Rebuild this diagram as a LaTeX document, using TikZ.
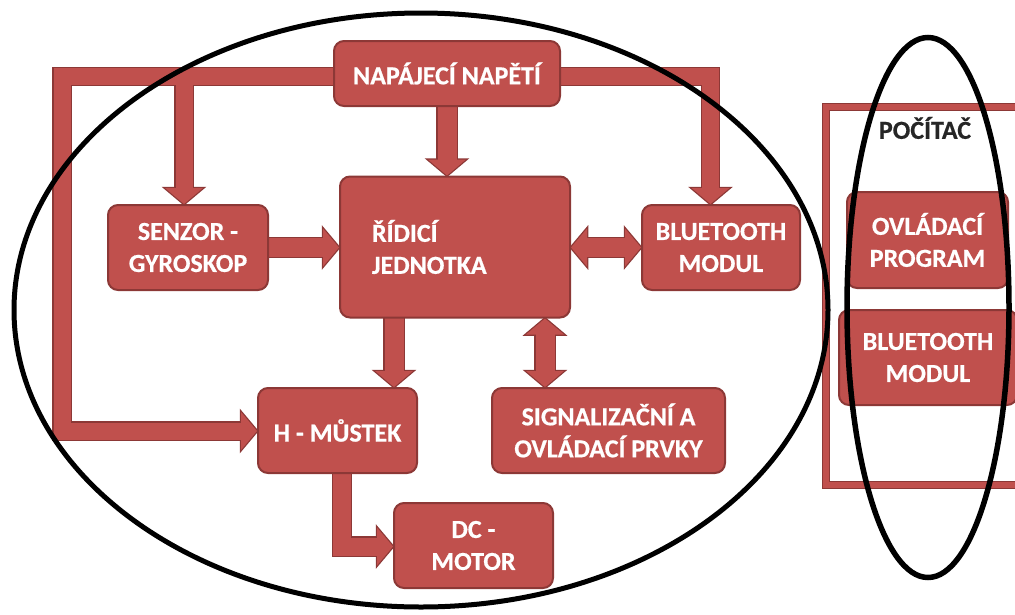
\documentclass[tikz,border=0pt]{standalone}
\usepackage{fontspec}
\setmainfont{Carlito}[BoldFeatures={FakeBold=0.6}]
\usetikzlibrary{calc,backgrounds}

\definecolor{boxred}{RGB}{192,80,77}
\definecolor{bdr}{RGB}{140,56,54}

\newcommand\boxfont{\fontsize{26}{32}\selectfont\bfseries}

% arrow heads: tip at #1, base 16 back, half width 19
\newcommand\headD[1]{($(#1)+(-19,-16)$) -- (#1) -- ($(#1)+(19,-16)$) -- cycle}
\newcommand\headU[1]{($(#1)+(-19,16)$) -- (#1) -- ($(#1)+(19,16)$) -- cycle}
\newcommand\headR[1]{($(#1)+(-16,-19)$) -- (#1) -- ($(#1)+(-16,19)$) -- cycle}
\newcommand\headL[1]{($(#1)+(16,-19)$) -- (#1) -- ($(#1)+(16,19)$) -- cycle}

% all block arrows and bus bars, drawn with the style given in #1
\newcommand\flowparts[1]{%
  % supply bus, left branch down to the H-bridge
  \path[#1] ($(jL)+(-8.5,-8.5)$) rectangle ($(nap.west |- jL)+(2,8.5)$);
  \path[#1] ($(jL)+(-8.5,-8.5)$) rectangle ($(jB)+(8.5,8.5)$);
  \path[#1] ($(jB)+(-8.5,-8.5)$) rectangle ($(jB -| hm.west)+(-15,8.5)$);
  \path[#1] \headR{jB -| hm.west};
  % supply to the gyro sensor
  \path[#1] ($(jS)+(-8.5,0)$) rectangle ($(jS |- sen.north)+(8.5,-15)$);
  \path[#1] \headD{jS |- sen.north};
  % supply bus, right branch down to the bluetooth module
  \path[#1] ($(nap.east |- jR)+(-2,-8.5)$) rectangle ($(jR)+(8.5,8.5)$);
  \path[#1] ($(jR)+(-8.5,0)$) rectangle ($(jR |- btl.north)+(8.5,-15)$);
  \path[#1] \headD{jR |- btl.north};
  % supply to the control unit
  \path[#1] ($(nap.south)+(-9.5,-2)$) rectangle ($(nap.south |- rid.north)+(9.5,-15)$);
  \path[#1] \headD{nap.south |- rid.north};
  % sensor to control unit
  \path[#1] ($(sen.east)+(-2,-9.5)$) rectangle ($(sen.east -| rid.west)+(-15,9.5)$);
  \path[#1] \headR{sen.east -| rid.west};
  % control unit <-> bluetooth
  \path[#1] ($(rid.east |- btl.west)+(15,-9.5)$) rectangle ($(btl.west)+(-15,9.5)$);
  \path[#1] \headL{rid.east |- btl.west};
  \path[#1] \headR{btl.west};
  % control unit to H-bridge
  \path[#1] ($(tH |- rid.south)+(-9.5,-2)$) rectangle ($(tH)+(9.5,-15)$);
  \path[#1] \headD{tH};
  % control unit <-> signalling elements
  \path[#1] ($(tS |- rid.south)+(-9.5,15)$) rectangle ($(tS)+(9.5,-15)$);
  \path[#1] \headU{tS |- rid.south};
  \path[#1] \headD{tS};
  % H-bridge to DC motor
  \path[#1] ($(hm.south -| jM)+(-9,-2)$) rectangle ($(jM)+(9,9)$);
  \path[#1] ($(jM)+(-9,-9)$) rectangle ($(jM -| dc.west)+(-15,9)$);
  \path[#1] \headR{jM -| dc.west};
}

\begin{document}
\begin{tikzpicture}[x=1pt,y=-1pt,
  box/.style={rounded corners=10pt, fill=boxred, draw=bdr, line width=2pt,
    text=white, font=\boxfont, align=center, inner sep=0pt},
  ring/.style={draw=black, line width=5pt}]
\useasboundingbox (0,0) rectangle (1015,614);

% blocks
\node[box, minimum width=226pt, minimum height=65pt] (nap) at (447,73.5) {NAPÁJECÍ NAPĚTÍ};
\node[box, minimum height=141pt, align=left, text width=166pt, inner xsep=32pt] (rid) at (455,247) {ŘÍDICÍ\\JEDNOTKA};
\node[box, minimum width=160pt, minimum height=85pt] (sen) at (188,247.5) {SENZOR -\\GYROSKOP};
\node[box, minimum width=158pt, minimum height=85pt] (btl) at (721,247.5) {BLUETOOTH\\MODUL};
\node[box, minimum width=159pt, minimum height=85pt] (hm) at (337.5,430.5) {H - MŮSTEK};
\node[box, minimum width=233pt, minimum height=85pt] (sig) at (608.5,430.5) {SIGNALIZAČNÍ A\\OVLÁDACÍ PRVKY};
\node[box, minimum width=159pt, minimum height=85pt] (dc) at (473.5,545.5) {DC -\\MOTOR};

% junctions of the block arrows
\coordinate (jL) at (62,76.5);
\coordinate (jB) at (62,431);
\coordinate (jS) at (184,76.5);
\coordinate (jR) at (710.5,76.5);
\coordinate (tH) at ($(hm.north)+(56.5,0)$);
\coordinate (tS) at ($(sig.north)+(-63.5,0)$);
\coordinate (jM) at ($(hm.south)+(4.5,72.5)$);

\begin{pgfonlayer}{background}
  \flowparts{draw=bdr, line width=2.5pt}
  \flowparts{fill=boxred}
\end{pgfonlayer}

% computer frame
\draw[bdr, line width=8pt] (825.5,106.5) rectangle (1040,484.5);
\draw[boxred, line width=6pt] (825.5,106.5) rectangle (1040,484.5);
\node[font=\boxfont, text=black!85] (pc) at (925,128) {POČÍTAČ};
\node[box, minimum width=161pt, minimum height=96pt] (ovl) at (927.5,240) {OVLÁDACÍ\\PROGRAM};
\node[box, minimum width=178pt, minimum height=95pt] (btr) at (928,357.5) {BLUETOOTH\\MODUL};

% outlines of the two groups
\draw[ring] (421,310) ellipse [x radius=407, y radius=297];
\draw[ring, line width=5.5pt] (928,307.5) ellipse [x radius=81, y radius=270];
\end{tikzpicture}
\end{document}
